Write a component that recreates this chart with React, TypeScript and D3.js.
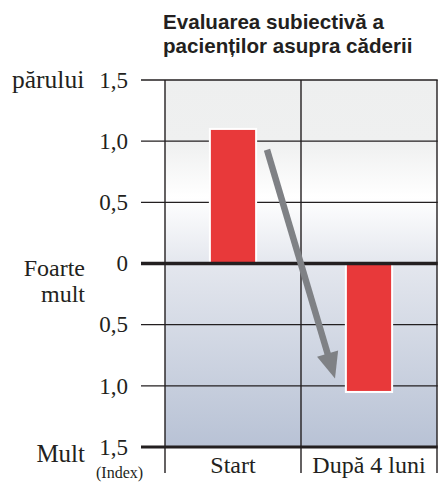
import { useEffect, useRef } from 'react'
import * as d3 from 'd3'

const titleLines = ['Evaluarea subiectivă a', 'pacienților asupra căderii']
const categories = ['Start', 'După 4 luni']
const scores = [1.1, -1.05]
const tickValues = [1.5, 1, 0.5, 0, -0.5, -1, -1.5]
const tickLabels = ['1,5', '1,0', '0,5', '0', '0,5', '1,0', '1,5']
// arrow: [position in category units, value]
const arrowFrom = [0.75, 0.93]
const arrowTo = [1.25, -0.94]

export default function App() {
  const ref = useRef<SVGSVGElement | null>(null)

  useEffect(() => {
    if (!ref.current) return
    const svg = d3.select(ref.current)
    svg.selectAll('*').remove()

    const width = 439
    const height = 482
    const plot = { left: 165, right: 437, top: 80, bottom: 447 }
    const tickStart = 141
    const ink = '#231f20'
    const serif = '"Liberation Serif", "Times New Roman", serif'

    const x = d3.scaleBand<string>().domain(categories).range([plot.left, plot.right]).padding(0)
    const xPos = d3.scaleLinear().domain([0, categories.length]).range([plot.left, plot.right])
    const y = d3.scaleLinear().domain([-1.5, 1.5]).range([plot.bottom, plot.top])

    // background gradient
    const defs = svg.append('defs')
    const grad = defs.append('linearGradient')
      .attr('id', 'bg')
      .attr('x1', 0).attr('y1', 0).attr('x2', 0).attr('y2', 1)
    const stops: [number, string][] = [
      [0, '#eeefef'], [0.17, '#eff0f0'], [0.32, '#ffffff'], [0.5, '#e4e7ee'], [1, '#b8c2d5']
    ]
    stops.forEach(([o, c]) => grad.append('stop').attr('offset', o).attr('stop-color', c))

    svg.append('rect')
      .attr('x', plot.left).attr('y', plot.top)
      .attr('width', plot.right - plot.left).attr('height', plot.bottom - plot.top)
      .attr('fill', 'url(#bg)')

    // vertical lines
    const vx = [plot.left, ...categories.slice(1).map(c => x(c)!), plot.right]
    svg.selectAll('.vline')
      .data(vx)
      .enter()
      .append('line')
      .attr('x1', d => d).attr('x2', d => d)
      .attr('y1', plot.top).attr('y2', 473)
      .attr('stroke', ink).attr('stroke-width', 1.4)

    // horizontal grid lines
    svg.selectAll('.hline')
      .data(tickValues.filter(v => v !== 0))
      .enter()
      .append('line')
      .attr('x1', tickStart).attr('x2', plot.right + 0.7)
      .attr('y1', d => y(d)).attr('y2', d => y(d))
      .attr('stroke', ink)
      .attr('stroke-width', d => (d === -1.5 ? 3.2 : 1.4))

    // bars
    svg.selectAll('.bar')
      .data(scores)
      .enter()
      .append('rect')
      .attr('x', (d, i) => x(categories[i])! + x.bandwidth() * 0.33)
      .attr('width', x.bandwidth() * 0.34)
      .attr('y', d => y(Math.max(0, d)))
      .attr('height', d => Math.abs(y(d) - y(0)))
      .attr('fill', '#e8393a')
      .attr('stroke', '#ffffff')
      .attr('stroke-width', 2)

    // zero line
    svg.append('line')
      .attr('x1', tickStart).attr('x2', plot.right + 0.7)
      .attr('y1', y(0)).attr('y2', y(0))
      .attr('stroke', ink).attr('stroke-width', 3.4)

    // arrow
    const sx = xPos(arrowFrom[0]), sy = y(arrowFrom[1])
    const tx = xPos(arrowTo[0]), ty = y(arrowTo[1])
    const len = Math.hypot(tx - sx, ty - sy)
    const ux = (tx - sx) / len, uy = (ty - sy) / len
    const headLen = 26, headHalf = 11
    const bx = tx - ux * headLen, by = ty - uy * headLen
    svg.append('line')
      .attr('x1', sx).attr('y1', sy)
      .attr('x2', bx + ux * 4).attr('y2', by + uy * 4)
      .attr('stroke', '#7f8185').attr('stroke-width', 6.5)
    svg.append('path')
      .attr('d', `M${tx},${ty}L${bx - uy * headHalf},${by + ux * headHalf}L${bx + uy * headHalf},${by - ux * headHalf}Z`)
      .attr('fill', '#7f8185')

    // tick labels
    svg.selectAll('.tick')
      .data(tickValues)
      .enter()
      .append('text')
      .attr('x', 128)
      .attr('y', d => y(d))
      .attr('dy', '0.34em')
      .attr('text-anchor', 'end')
      .attr('font-family', serif)
      .attr('font-size', 23)
      .attr('fill', ink)
      .text((d, i) => tickLabels[i])

    // side labels
    const side = (t: string, xx: number, yy: number, anchor: string, size = 25) =>
      svg.append('text')
        .attr('x', xx).attr('y', yy)
        .attr('text-anchor', anchor)
        .attr('font-family', serif)
        .attr('font-size', size)
        .attr('fill', ink)
        .text(t)
    side('părului', 12, y(1.5) + 8, 'start', 25.5)
    side('Foarte', 85, y(0) + 12, 'end', 24)
    side('mult', 85, y(0) + 38.5, 'end', 24)
    side('Mult', 85, y(-1.5) + 15, 'end')
    side('(Index)', 96, 478, 'start', 16)

    // category labels
    svg.selectAll('.cat')
      .data(categories)
      .enter()
      .append('text')
      .attr('x', d => x(d)! + x.bandwidth() / 2)
      .attr('y', 473)
      .attr('text-anchor', 'middle')
      .attr('font-family', serif)
      .attr('font-size', 24)
      .attr('fill', ink)
      .text(d => d)

    // title
    svg.selectAll('.title')
      .data(titleLines)
      .enter()
      .append('text')
      .attr('x', 163)
      .attr('y', (d, i) => 29 + i * 24)
      .attr('font-family', '"Liberation Sans", Arial, sans-serif')
      .attr('font-weight', 'bold')
      .attr('font-size', 20.6)
      .attr('fill', ink)
      .text(d => d)

    svg.attr('width', width).attr('height', height)
  }, [])

  return (
    <svg
      ref={ref}
      width={439}
      height={482}
      style={{ position: 'absolute', left: 0, top: 0, background: '#ffffff' }}
    />
  )
}
